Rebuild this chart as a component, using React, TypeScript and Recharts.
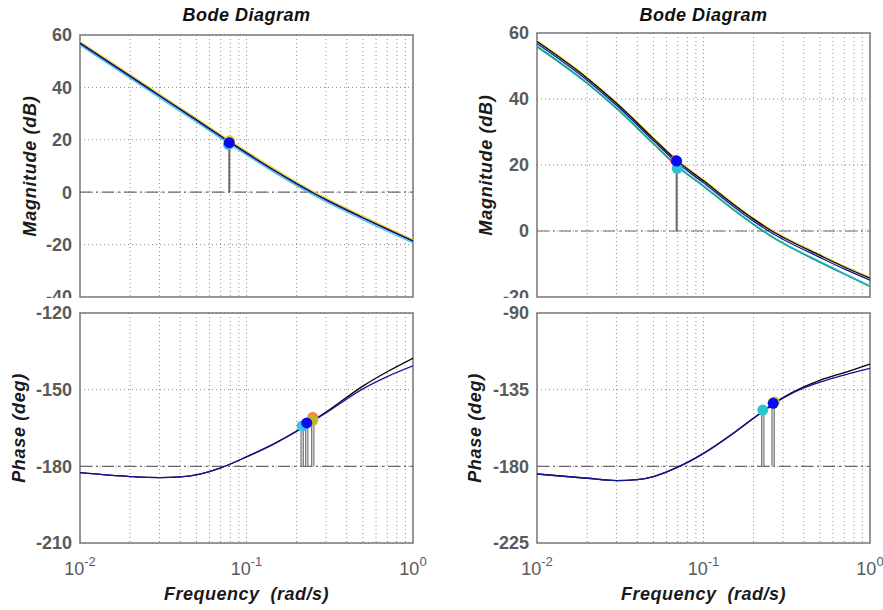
import React from "react";
import {
  ComposedChart,
  Line,
  XAxis,
  YAxis,
  CartesianGrid,
  ReferenceLine,
  ReferenceArea,
  ReferenceDot,
} from "recharts";

const FONT = '"Liberation Sans", Arial, Helvetica, sans-serif';

// grid / tick positions on the log frequency axis (rad/s)
const freqTicks = [
  0.01, 0.02, 0.03, 0.04, 0.05, 0.06, 0.07, 0.08, 0.09,
  0.1, 0.2, 0.3, 0.4, 0.5, 0.6, 0.7, 0.8, 0.9, 1,
];

// ---- left system: magnitude (dB)
const magFreqA = [0.01, 0.02, 0.03, 0.05, 0.074, 0.1, 0.15, 0.2, 0.24, 0.3, 0.5, 0.7, 1];
const magYellowA = [57.5, 44.9, 37.5, 28.2, 21, 15.6, 8.6, 3.9, 1.05, -2.25, -9.15, -13.5, -18];
const magCyanA = [56.1, 43.5, 36.1, 26.8, 19.6, 14.2, 7.2, 2.5, -0.35, -3.65, -10.55, -14.9, -19.4];
const magBlackA = [56.9, 44.3, 36.9, 27.6, 20.4, 15, 8, 3.3, 0.45, -2.85, -9.75, -14.1, -18.6];
const magBlueA = [56.8, 44.2, 36.8, 27.5, 20.3, 14.9, 7.9, 3.2, 0.35, -2.95, -9.85, -14.2, -18.7];

// ---- left system: phase (deg)
const phFreqA = [0.01, 0.02, 0.03, 0.04, 0.05, 0.07, 0.1, 0.15, 0.2, 0.3, 0.5, 0.7, 1];
const phBlackA = [-182.5, -184, -184.4, -184.1, -183.3, -180.6, -176.3, -170.8, -166.2, -158.8, -148.6, -143, -137.7];
const phBlueA = [-182.5, -184, -184.4, -184.1, -183.3, -180.6, -176.3, -170.8, -166.3, -159.1, -149.7, -144.9, -140.7];

// ---- right system: magnitude (dB)
const magFreqB = [0.01, 0.02, 0.03, 0.05, 0.069, 0.1, 0.15, 0.2, 0.257, 0.3, 0.5, 0.7, 1];
const magYellowB = [57.7, 46.6, 39, 28.3, 21.7, 15.5, 8.5, 3.9, 0.3, -1.6, -7.1, -10.6, -14];
const magBlackB = [57.4, 46.3, 38.7, 28, 21.4, 15.2, 8.2, 3.6, 0, -1.9, -7.4, -10.9, -14.3];
const magBlueB = [56.8, 45.7, 38.1, 27.4, 20.8, 14.6, 7.6, 3, -0.6, -2.5, -8, -11.5, -14.9];
const magCyanB = [56.1, 45, 37.4, 26.7, 20, 13.8, 6.8, 2.2, -1.5, -3.5, -9.2, -12.8, -16.6];
const magGreenB = [55.8, 44.7, 37.1, 26.4, 19.7, 13.5, 6.5, 1.9, -1.8, -3.8, -9.5, -13.1, -16.9];

// ---- right system: phase (deg)
const phFreqB = [0.01, 0.02, 0.03, 0.04, 0.05, 0.07, 0.1, 0.15, 0.2, 0.3, 0.4, 0.5, 0.7, 1];
const phBlackB = [-184.5, -187, -188.4, -187.8, -186, -180.5, -172.4, -160.8, -151.7, -139.7, -133.4, -129.5, -125, -119.9];
const phBlueB = [-184.5, -187, -188.4, -187.8, -186, -180.5, -172.4, -160.8, -151.8, -140, -134, -130.6, -126.4, -122.5];

// crossover markers: [freq, value]
const markMagA = { yellow: [0.079, 19.6], cyan: [0.078, 18.2], blue: [0.0788, 18.9] };
const markPhA = { cyan: [0.216, -164.2], orange: [0.25, -160.8], yellow: [0.25, -162], blue: [0.23, -163] };
const markMagB = { red: [0.068, 21.4], cyan: [0.0695, 19], blue: [0.069, 21.2] };
const markPhB = { yellow: [0.266, -142.2], cyan: [0.227, -147], blue: [0.262, -143] };

const C = {
  black: "#000000",
  blue: "#16169a",
  yellow: "#e8cf2a",
  cyan: "#39c4e6",
  green: "#169e78",
  dotBlue: "#0a0af0",
  dotCyan: "#2cc2d0",
  orange: "#ef8a4a",
  olive: "#c4b623",
  red: "#d04080",
};

type Series = { freq: number[]; values: number[]; color: string; width?: number };
type Mark = { f: number; v: number; color: string };
type Stem = { f: number; top: number };

const toPoints = (freq: number[], values: number[]) => freq.map((f, i) => ({ f, v: values[i] }));

const FreqTick = (props: any) => {
  const { x, y, payload, show } = props;
  const e = Math.log10(payload.value);
  if (!show || Math.abs(e - Math.round(e)) > 1e-6) return <g />;
  return (
    <text x={x} y={y + 24} textAnchor="middle" fill="#5a5a5a" fontSize={18} fontFamily={FONT}>
      10
      <tspan dy={-9} fontSize={13}>
        {Math.round(e)}
      </tspan>
    </text>
  );
};

interface PanelProps {
  width: number;
  height: number;
  margin: { top: number; right: number; bottom: number; left: number };
  yDomain: [number, number];
  yTicks: number[];
  refY: number;
  series: Series[];
  marks: Mark[];
  stems: Stem[];
  phaseStems?: boolean;
  yLabel: string;
  labelDx: number;
  showFreq?: boolean;
}

const labelStyle = {
  fontFamily: FONT,
  fontSize: 18,
  fontStyle: "italic",
  fontWeight: "bold",
  letterSpacing: 0.7,
  fill: "#1a1a1a",
};

const BodePanel: React.FC<PanelProps> = ({
  width,
  height,
  margin,
  yDomain,
  yTicks,
  refY,
  series,
  marks,
  stems,
  phaseStems = false,
  yLabel,
  labelDx,
  showFreq = false,
}) => (
  <ComposedChart width={width} height={height} margin={margin}>
    <CartesianGrid stroke="#8c8c8c" strokeDasharray="1 3" />
    <XAxis
      dataKey="f"
      type="number"
      scale="log"
      domain={[0.01, 1]}
      ticks={freqTicks}
      interval={0}
      allowDataOverflow
      axisLine={false}
      tickLine={false}
      height={showFreq ? 67 : 1}
      tick={<FreqTick show={showFreq} />}
      label={
        showFreq
          ? {
              value: "Frequency\u00a0 (rad/s)",
              position: "insideBottom",
              offset: 10,
              style: { ...labelStyle, letterSpacing: 0.5 },
            }
          : undefined
      }
    />
    <YAxis
      type="number"
      domain={yDomain}
      ticks={yTicks}
      interval={0}
      allowDataOverflow
      width={60}
      axisLine={false}
      tickLine={false}
      tick={{ fill: "#5a5a5a", fontSize: 18, fontFamily: FONT, fontWeight: "bold" }}
      label={{
        value: yLabel,
        angle: -90,
        position: "center",
        dx: labelDx,
        style: { ...labelStyle, textAnchor: "middle" },
      }}
    />
    <ReferenceLine y={refY} stroke="#6a6a6a" strokeWidth={1.2} strokeDasharray="12 4 2 4" />
    {stems.map((s, i) => (
      <ReferenceLine
        key={`so${i}`}
        segment={[{ x: s.f, y: refY }, { x: s.f, y: s.top }]}
        stroke={phaseStems ? "#7a7a7a" : "#6a6a6a"}
        strokeWidth={phaseStems ? 3.5 : 2}
      />
    ))}
    {phaseStems &&
      stems.map((s, i) => (
        <ReferenceLine
          key={`si${i}`}
          segment={[{ x: s.f, y: refY }, { x: s.f, y: s.top }]}
          stroke="#d8d8d8"
          strokeWidth={1.2}
        />
      ))}
    {series.map((s, i) => (
      <Line
        key={i}
        data={toPoints(s.freq, s.values)}
        dataKey="v"
        type="monotone"
        stroke={s.color}
        strokeWidth={s.width ?? 1.3}
        dot={false}
        activeDot={false}
        isAnimationActive={false}
      />
    ))}
    {marks.map((m, i) => (
      <ReferenceDot key={`m${i}`} x={m.f} y={m.v} r={5.5} fill={m.color} stroke="none" />
    ))}
    <ReferenceArea
      x1={0.01}
      x2={1}
      y1={yDomain[0]}
      y2={yDomain[1]}
      fill="none"
      fillOpacity={0}
      stroke="#7a7a7a"
      strokeWidth={1.5}
    />
  </ComposedChart>
);

const titleStyle = (left: number): React.CSSProperties => ({
  position: "absolute",
  left,
  top: 6,
  width: 333,
  textAlign: "center",
  fontFamily: FONT,
  fontSize: 18,
  fontStyle: "italic",
  fontWeight: "bold",
  letterSpacing: 0.5,
  lineHeight: "18px",
  color: "#111",
});

// phase panels sit on a white backing that starts just under the magnitude box,
// so the lowest magnitude tick label is half hidden as in the original figure
const phaseBox = (left: number): React.CSSProperties => ({
  position: "absolute",
  left,
  top: 298,
  background: "#fff",
});

const mk = (p: number[], color: string): Mark => ({ f: p[0], v: p[1], color });

export default function App() {
  return (
    <div
      style={{
        position: "absolute",
        left: 0,
        top: 0,
        width: 883,
        height: 610,
        background: "#fff",
        overflow: "hidden",
      }}
    >
      <style>{`.recharts-surface { overflow: visible; }`}</style>
      <div style={titleStyle(80)}>Bode Diagram</div>
      <div style={titleStyle(537)}>Bode Diagram</div>

      <div style={{ position: "absolute", left: 0, top: 0 }}>
        <BodePanel
          width={440}
          height={305}
          margin={{ top: 35, right: 27, bottom: 7, left: 20 }}
          yDomain={[-40, 60]}
          yTicks={[-40, -20, 0, 20, 40, 60]}
          refY={0}
          series={[
            { freq: magFreqA, values: magYellowA, color: C.yellow },
            { freq: magFreqA, values: magCyanA, color: C.cyan },
            { freq: magFreqA, values: magBlackA, color: C.black },
            { freq: magFreqA, values: magBlueA, color: C.blue },
          ]}
          marks={[
            mk(markMagA.yellow, C.yellow),
            mk(markMagA.cyan, C.cyan),
            mk(markMagA.blue, C.dotBlue),
          ]}
          stems={[{ f: markMagA.blue[0], top: markMagA.cyan[1] }]}
          yLabel="Magnitude (dB)"
          labelDx={-20}
        />
      </div>

      <div style={{ position: "absolute", left: 440, top: 0 }}>
        <BodePanel
          width={443}
          height={305}
          margin={{ top: 33, right: 13, bottom: 7, left: 37 }}
          yDomain={[-20, 60]}
          yTicks={[-20, 0, 20, 40, 60]}
          refY={0}
          series={[
            { freq: magFreqB, values: magYellowB, color: C.yellow },
            { freq: magFreqB, values: magCyanB, color: C.cyan },
            { freq: magFreqB, values: magGreenB, color: C.green },
            { freq: magFreqB, values: magBlueB, color: C.blue },
            { freq: magFreqB, values: magBlackB, color: C.black },
          ]}
          marks={[
            mk(markMagB.red, C.red),
            mk(markMagB.cyan, C.dotCyan),
            mk(markMagB.blue, C.dotBlue),
          ]}
          stems={[{ f: markMagB.blue[0], top: markMagB.cyan[1] }]}
          yLabel="Magnitude (dB)"
          labelDx={-21}
        />
      </div>

      <div style={phaseBox(0)}>
        <BodePanel
          width={440}
          height={312}
          margin={{ top: 15, right: 27, bottom: 0, left: 20 }}
          yDomain={[-210, -120]}
          yTicks={[-210, -180, -150, -120]}
          refY={-180}
          series={[
            { freq: phFreqA, values: phBlackA, color: C.black },
            { freq: phFreqA, values: phBlueA, color: C.blue },
          ]}
          marks={[
            mk(markPhA.orange, C.orange),
            mk(markPhA.yellow, C.olive),
            mk(markPhA.cyan, C.cyan),
            mk(markPhA.blue, C.dotBlue),
          ]}
          stems={[
            { f: markPhA.cyan[0], top: markPhA.cyan[1] },
            { f: markPhA.blue[0], top: markPhA.blue[1] },
            { f: markPhA.orange[0], top: markPhA.orange[1] },
          ]}
          phaseStems
          yLabel="Phase (deg)"
          labelDx={-31}
          showFreq
        />
      </div>

      <div style={phaseBox(440)}>
        <BodePanel
          width={443}
          height={312}
          margin={{ top: 15, right: 13, bottom: 0, left: 37 }}
          yDomain={[-225, -90]}
          yTicks={[-225, -180, -135, -90]}
          refY={-180}
          series={[
            { freq: phFreqB, values: phBlackB, color: C.black },
            { freq: phFreqB, values: phBlueB, color: C.blue },
          ]}
          marks={[
            mk(markPhB.yellow, C.olive),
            mk(markPhB.cyan, C.dotCyan),
            mk(markPhB.blue, C.dotBlue),
          ]}
          stems={[
            { f: markPhB.cyan[0], top: markPhB.cyan[1] },
            { f: markPhB.blue[0], top: markPhB.blue[1] },
          ]}
          phaseStems
          yLabel="Phase (deg)"
          labelDx={-32}
          showFreq
        />
      </div>
    </div>
  );
}
